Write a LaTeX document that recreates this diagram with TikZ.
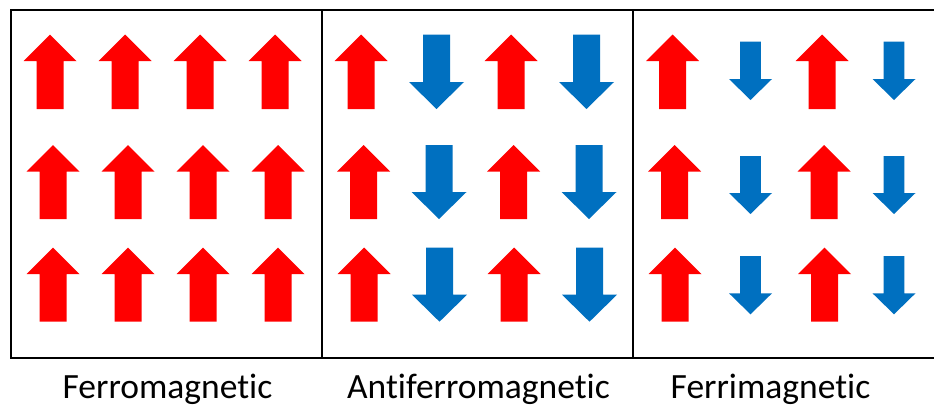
\documentclass[tikz,border=0pt]{standalone}
\usepackage{fontspec}
\setmainfont{Carlito}[Ligatures=CommonOff]
\definecolor{spinred}{HTML}{FF0000}
\definecolor{spinblue}{HTML}{0070C0}
% #1 colour, #2 centre x, #3 tip y, #4 tail y, #5 head base y, #6 head half-width, #7 shaft half-width
\newcommand{\spinarrow}[7]{%
  \pgfmathsetmacro{\sax}{#2}%
  \pgfmathsetmacro{\satip}{#3}%
  \pgfmathsetmacro{\satail}{#4}%
  \pgfmathsetmacro{\sabase}{#5}%
  \pgfmathsetmacro{\sahl}{\sax-#6}%
  \pgfmathsetmacro{\sahr}{\sax+#6}%
  \pgfmathsetmacro{\sasl}{\sax-#7}%
  \pgfmathsetmacro{\sasr}{\sax+#7}%
  \fill[#1] (\sax,\satip) -- (\sahr,\sabase) -- (\sasr,\sabase) -- (\sasr,\satail)
    -- (\sasl,\satail) -- (\sasl,\sabase) -- (\sahl,\sabase) -- cycle;}
\begin{document}
\begin{tikzpicture}[x=1pt,y=-1pt,
  caption/.style={anchor=base,inner sep=0pt,font=\fontsize{35.5}{42}\selectfont}]
\clip (0,0) rectangle (934,407);
\fill[white] (0,0) rectangle (934,407);
% frame and panel dividers
\draw[line width=2pt] (11,10) rectangle (945,358);
\draw[line width=1.6pt] (322,10) -- (322,358);
\draw[line width=1.6pt] (633,10) -- (633,358);
% ferromagnetic panel: all spins up
\foreach \dx/\t/\b in {0/34.5/109, 3/145/219, 3/247.7/321.7}{
  \foreach \cx in {50,125,200,275}{
    \spinarrow{spinred}{\cx+\dx}{\t}{\b}{\t+26.5}{26.5}{13.5}
  }
}
% antiferromagnetic panel: equal up and down spins
\foreach \dx/\t/\b in {0/34.5/109, 2.5/145/219, 3/247.5/321.7}{
  \foreach \cx in {361,511}{
    \spinarrow{spinred}{\cx+\dx}{\t}{\b}{\t+26.5}{26.5}{13.5}
  }
  \foreach \cx in {436.5,586.5}{
    \spinarrow{spinblue}{\cx+\dx}{\b}{\t}{\b-27}{27.5}{13.5}
  }
}
% ferrimagnetic panel: large up spins, small down spins
\foreach \dx/\t/\b/\st/\sb in {0/34.5/109/41.7/100, 2/145/219/156/214, 2.5/247.7/321.7/256/314.3}{
  \foreach \cx in {672.5,822}{
    \spinarrow{spinred}{\cx+\dx}{\t}{\b}{\t+26.5}{26.5}{13.5}
  }
  \foreach \cx in {750.5,894}{
    \spinarrow{spinblue}{\cx}{\sb}{\st}{\sb-21}{21.5}{10.3}
  }
}
% captions
\node[caption] (ferro) at (167.5,398.3) {Ferromagnetic};
\node[caption] (antiferro) at (478.5,398.3) {Antiferromagnetic};
\node[caption] (ferri) at (770.5,398.3) {Ferrimagnetic};
\end{tikzpicture}
\end{document}
